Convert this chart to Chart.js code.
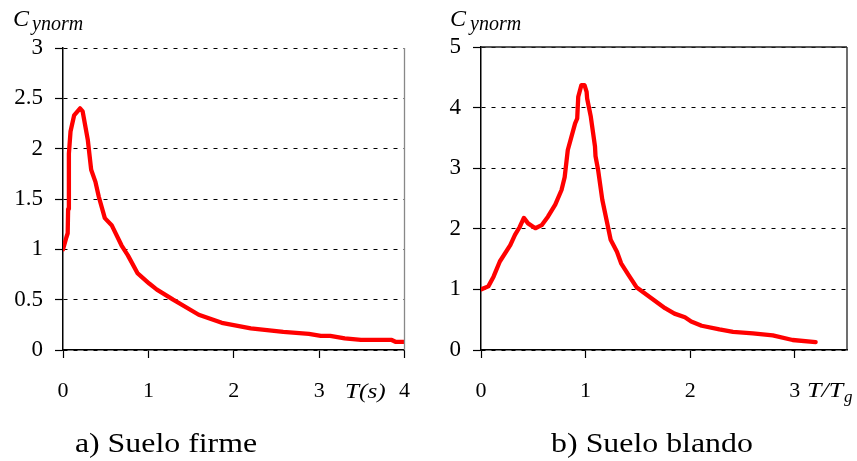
<!DOCTYPE html>
<html>
<head>
<meta charset="utf-8">
<script src="https://cdn.jsdelivr.net/npm/chart.js@4"></script>
<style>
  body { margin: 0; background: #fff; }
  .panel { position: absolute; top: 0; height: 461px; }
  #left { left: 0; width: 430px; }
  #right { left: 430px; width: 427px; }
</style>
</head>
<body>
<div class="panel" id="left"><canvas id="firme"></canvas></div>
<div class="panel" id="right"><canvas id="blando"></canvas></div>
<script>
// a) Suelo firme : T (s) vs Cynorm
const firmeT = [0, 0.04, 0.055, 0.06, 0.07, 0.068, 0.088, 0.13, 0.2, 0.23, 0.29, 0.33, 0.38, 0.42, 0.49, 0.57,
                0.685, 0.76, 0.875, 1.01, 1.10, 1.29, 1.59, 1.86, 2.2, 2.58, 2.88, 3.02, 3.13, 3.3, 3.49, 3.85, 3.9, 4.0];
const firmeC = [1.0, 1.12, 1.16, 1.40, 1.50, 1.95, 2.17, 2.33, 2.40, 2.37, 2.09, 1.79, 1.67, 1.52, 1.31, 1.24,
                1.04, 0.94, 0.76, 0.66, 0.60, 0.50, 0.35, 0.27, 0.215, 0.18, 0.16, 0.14, 0.14, 0.115, 0.10, 0.10, 0.08, 0.08];

// b) Suelo blando : T/Tg vs Cynorm
const blandoT = [0, 0.07, 0.12, 0.18, 0.28, 0.325, 0.37, 0.41, 0.45, 0.52, 0.58, 0.64, 0.71, 0.77, 0.80, 0.83,
                 0.90, 0.92, 0.93, 0.96, 0.99, 1.01, 1.015, 1.05, 1.09, 1.095, 1.12, 1.16, 1.20, 1.24, 1.30, 1.34,
                 1.41, 1.49, 1.61, 1.76, 1.85, 1.95, 2.01, 2.11, 2.28, 2.41, 2.60, 2.79, 2.98, 3.2];
const blandoC = [1.0, 1.05, 1.21, 1.46, 1.73, 1.90, 2.03, 2.18, 2.09, 2.01, 2.06, 2.20, 2.40, 2.64, 2.85, 3.30,
                 3.74, 3.82, 4.18, 4.37, 4.37, 4.26, 4.15, 3.85, 3.36, 3.20, 2.97, 2.48, 2.15, 1.82, 1.62, 1.43,
                 1.24, 1.03, 0.88, 0.69, 0.60, 0.54, 0.47, 0.40, 0.34, 0.30, 0.275, 0.24, 0.165, 0.13];

// tick labels
const firmeYTicks = ['0', '0.5', '1', '1.5', '2', '2.5', '3'];
const firmeXTicks = ['0', '1', '2', '3', '4'];
const blandoYTicks = ['0', '1', '2', '3', '4', '5'];
const blandoXTicks = ['0', '1', '2', '3'];

const SERIF = '"Liberation Serif", "Times New Roman", serif';
Chart.defaults.font.family = SERIF;
Chart.defaults.color = '#000';

// draws free text (axis names, captions) on the canvas
const extraText = {
    id: 'extraText',
    afterDraw(chart, args, opts) {
        const ctx = chart.ctx;
        (opts.items || []).forEach(it => {
            ctx.save();
            ctx.font = it.font;
            ctx.fillStyle = '#000';
            ctx.textAlign = it.align || 'left';
            ctx.textBaseline = 'alphabetic';
            ctx.translate(it.x, it.y);
            ctx.scale(it.sx || 1, 1);
            ctx.fillText(it.text, 0, 0);
            ctx.restore();
        });
    }
};

// extra frame lines round the plot area
const frame = {
    id: 'frame',
    afterDatasetsDraw(chart, args, opts) {
        const a = chart.chartArea;
        const ctx = chart.ctx;
        ctx.save();
        ctx.strokeStyle = opts.color;
        ctx.lineWidth = opts.width;
        ctx.beginPath();
        if (opts.top) { ctx.moveTo(a.left, a.top); ctx.lineTo(a.right, a.top); }
        ctx.moveTo(a.right, a.top);
        ctx.lineTo(a.right, a.bottom);
        ctx.stroke();
        ctx.restore();
    }
};

function makeChart(id, xs, ys, cfg) {
    const points = xs.map((x, i) => ({ x: x, y: ys[i] }));
    return new Chart(document.getElementById(id), {
        type: 'line',
        data: {
            datasets: [{
                data: points,
                borderColor: '#ff0000',
                borderWidth: 4.3,
                pointRadius: 0,
                tension: 0,
                borderJoinStyle: 'round',
                borderCapStyle: 'round',
                fill: false
            }]
        },
        options: {
            responsive: true,
            maintainAspectRatio: false,
            animation: false,
            layout: { padding: { top: cfg.top, right: cfg.right, left: 0, bottom: 0 } },
            plugins: {
                legend: { display: false },
                tooltip: { enabled: false },
                extraText: { items: cfg.texts },
                frame: cfg.frame
            },
            scales: {
                x: {
                    type: 'linear',
                    min: 0,
                    max: cfg.xMax,
                    afterFit: s => { s.height = 111; },
                    grid: { drawOnChartArea: false, drawTicks: true, tickLength: 8, tickColor: '#000', tickWidth: 1.2 },
                    border: { display: true, color: '#000', width: 1.5 },
                    ticks: {
                        stepSize: 1,
                        includeBounds: false,
                        maxRotation: 0,
                        padding: 20,
                        font: { size: 22 },
                        callback: (v, i) => cfg.xTicks[i]
                    }
                },
                y: {
                    min: 0,
                    max: cfg.yMax,
                    afterFit: s => { s.width = cfg.yWidth; },
                    grid: { color: '#000', lineWidth: 1, tickLength: 8, tickColor: '#000', tickWidth: 1.2, tickBorderDash: [] },
                    border: { display: true, color: '#000', width: 1.5, dash: [4, 6] },
                    ticks: {
                        stepSize: cfg.yStep,
                        padding: 12,
                        font: { size: 23 },
                        callback: (v, i) => cfg.yTicks[i]
                    }
                }
            }
        },
        plugins: [extraText, frame]
    });
}

makeChart('firme', firmeT, firmeC, {
    top: 48, right: 15, yWidth: 63,
    xMax: 4, yMax: 3, yStep: 0.5,
    xTicks: firmeXTicks, yTicks: firmeYTicks,
    frame: { color: '#888', width: 1.3, top: false },
    texts: [
        { text: 'C', font: 'italic 24px ' + SERIF, x: 13, y: 26 },
        { text: 'ynorm', font: 'italic 20px ' + SERIF, x: 32, y: 30 },
        { text: 'T(s)', font: 'italic 22px ' + SERIF, x: 345, y: 398, sx: 1.15 },
        { text: 'a) Suelo firme', font: '27px ' + SERIF, x: 166, y: 452, align: 'center', sx: 1.18 }
    ]
});

makeChart('blando', blandoT, blandoC, {
    top: 47, right: 10, yWidth: 51,
    xMax: 3.5, yMax: 5, yStep: 1,
    xTicks: blandoXTicks, yTicks: blandoYTicks,
    frame: { color: '#222', width: 1.3, top: true },
    texts: [
        { text: 'C', font: 'italic 24px ' + SERIF, x: 20, y: 26 },
        { text: 'ynorm', font: 'italic 20px ' + SERIF, x: 40, y: 30 },
        { text: 'T/T', font: 'italic 22px ' + SERIF, x: 377, y: 397, sx: 1.18 },
        { text: 'g', font: 'italic 17px ' + SERIF, x: 414, y: 402 },
        { text: 'b) Suelo blando', font: '27px ' + SERIF, x: 222, y: 452, align: 'center', sx: 1.18 }
    ]
});
</script>
</body>
</html>
